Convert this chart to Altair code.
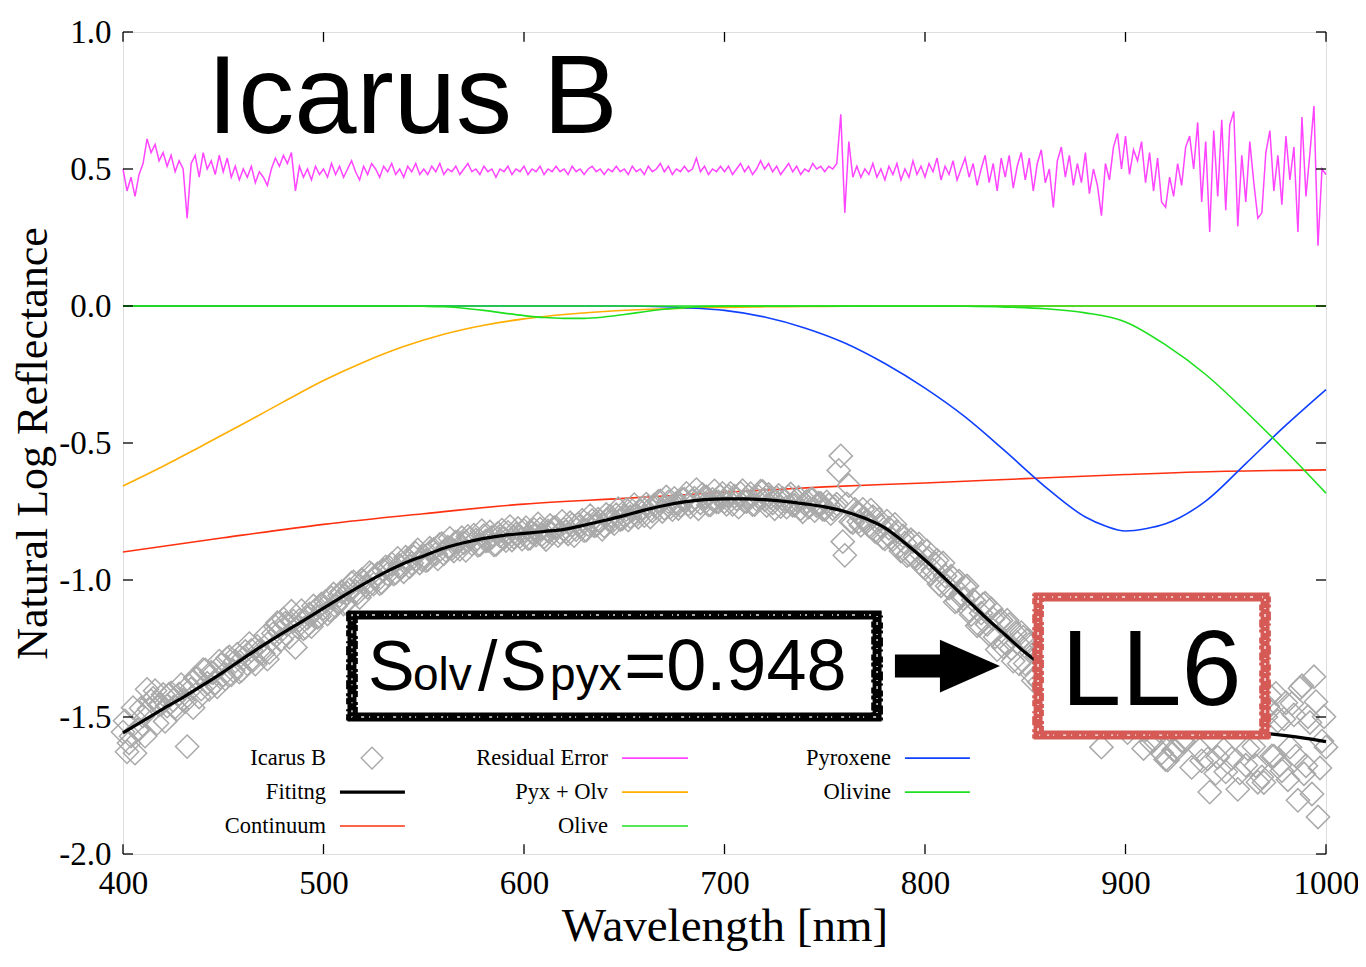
import altair as alt
import pandas as pd

# ---------------- data ----------------
# Residual Error (offset +0.5), 2 nm grid 400..1000
resid_wl = list(range(400, 1001, 2))
resid_vals = [
    0.50, 0.42, 0.47, 0.40, 0.48, 0.52, 0.61, 0.56, 0.59, 0.53, 0.56, 0.51, 0.55, 0.49, 0.53, 0.50, 0.32, 0.52, 0.55, 0.47, 0.56, 0.50, 0.53, 0.48, 0.55,
    0.49, 0.54, 0.47, 0.51, 0.46, 0.50, 0.47, 0.51, 0.45, 0.49, 0.47, 0.44, 0.50, 0.54, 0.51, 0.55, 0.52, 0.56, 0.42, 0.51, 0.47, 0.50, 0.46, 0.51, 0.48,
    0.50, 0.47, 0.52, 0.48, 0.51, 0.47, 0.50, 0.53, 0.49, 0.46, 0.51, 0.48, 0.52, 0.50, 0.47, 0.51, 0.49, 0.52, 0.48, 0.50, 0.47, 0.51, 0.49, 0.52, 0.48,
    0.50, 0.48, 0.51, 0.49, 0.52, 0.48, 0.50, 0.49, 0.51, 0.48, 0.50, 0.52, 0.49, 0.50, 0.48, 0.51, 0.49, 0.50, 0.47, 0.50, 0.49, 0.51, 0.48, 0.50, 0.49,
    0.51, 0.48, 0.50, 0.49, 0.51, 0.48, 0.50, 0.49, 0.51, 0.49, 0.50, 0.48, 0.51, 0.49, 0.50, 0.48, 0.50, 0.51, 0.49, 0.50, 0.48, 0.50, 0.49, 0.51, 0.49,
    0.50, 0.48, 0.51, 0.49, 0.50, 0.48, 0.51, 0.49, 0.50, 0.52, 0.49, 0.51, 0.48, 0.50, 0.49, 0.51, 0.49, 0.50, 0.54, 0.49, 0.51, 0.48, 0.50, 0.49, 0.51,
    0.49, 0.51, 0.48, 0.50, 0.52, 0.49, 0.51, 0.48, 0.50, 0.53, 0.50, 0.52, 0.49, 0.51, 0.48, 0.50, 0.52, 0.49, 0.51, 0.48, 0.50, 0.49, 0.52, 0.50, 0.51,
    0.49, 0.51, 0.50, 0.52, 0.70, 0.34, 0.60, 0.47, 0.51, 0.47, 0.50, 0.48, 0.52, 0.47, 0.50, 0.46, 0.51, 0.48, 0.52, 0.46, 0.50, 0.47, 0.53, 0.48, 0.51,
    0.47, 0.52, 0.49, 0.54, 0.46, 0.51, 0.48, 0.53, 0.46, 0.50, 0.54, 0.47, 0.52, 0.44, 0.50, 0.55, 0.45, 0.52, 0.42, 0.54, 0.47, 0.55, 0.43, 0.51, 0.56,
    0.46, 0.54, 0.42, 0.52, 0.57, 0.45, 0.50, 0.36, 0.53, 0.58, 0.47, 0.55, 0.44, 0.52, 0.45, 0.56, 0.41, 0.50, 0.44, 0.33, 0.52, 0.46, 0.58, 0.63, 0.50,
    0.62, 0.48, 0.57, 0.53, 0.60, 0.45, 0.56, 0.42, 0.54, 0.38, 0.36, 0.47, 0.40, 0.52, 0.44, 0.58, 0.62, 0.50, 0.67, 0.38, 0.60, 0.27, 0.64, 0.40, 0.68,
    0.35, 0.66, 0.71, 0.29, 0.55, 0.38, 0.60, 0.45, 0.32, 0.34, 0.56, 0.64, 0.42, 0.55, 0.37, 0.62, 0.46, 0.58, 0.27, 0.69, 0.40, 0.56, 0.73, 0.22, 0.50, 0.48,
]

# Icarus B measured spectrum, even nm grid 400..1000
obs_wl = list(range(400, 1001, 2))
obs_vals = [
    -1.555, -1.627, -1.570, -1.632, -1.545, -1.497, -1.399, -1.441, -1.404, -1.456, -1.418, -1.460, -1.412, -1.464, -1.416, -1.438, -1.608, -1.398, -1.357, -1.427, -1.327, -1.377, -1.337, -1.376, -1.296,
    -1.346, -1.286, -1.346, -1.296, -1.336, -1.286, -1.306, -1.257, -1.307, -1.258, -1.268, -1.289, -1.220, -1.170, -1.191, -1.142, -1.163, -1.114, -1.246, -1.147, -1.178, -1.139, -1.170, -1.111, -1.132,
    -1.103, -1.124, -1.065, -1.096, -1.057, -1.088, -1.049, -1.011, -1.042, -1.064, -1.005, -1.027, -0.979, -0.991, -1.013, -0.965, -0.978, -0.941, -0.974, -0.947, -0.970, -0.924, -0.939, -0.903, -0.938,
    -0.912, -0.926, -0.891, -0.905, -0.870, -0.904, -0.880, -0.886, -0.862, -0.888, -0.864, -0.841, -0.868, -0.854, -0.871, -0.838, -0.856, -0.844, -0.871, -0.839, -0.847, -0.826, -0.854, -0.833, -0.841,
    -0.820, -0.849, -0.827, -0.836, -0.814, -0.843, -0.821, -0.830, -0.808, -0.827, -0.815, -0.832, -0.799, -0.816, -0.803, -0.820, -0.797, -0.783, -0.800, -0.786, -0.803, -0.779, -0.786, -0.762, -0.779,
    -0.765, -0.781, -0.747, -0.763, -0.749, -0.765, -0.732, -0.748, -0.735, -0.711, -0.738, -0.715, -0.743, -0.720, -0.728, -0.705, -0.723, -0.712, -0.670, -0.719, -0.697, -0.726, -0.706, -0.715, -0.695,
    -0.714, -0.694, -0.724, -0.704, -0.684, -0.714, -0.695, -0.725, -0.706, -0.676, -0.707, -0.688, -0.719, -0.700, -0.732, -0.713, -0.695, -0.727, -0.708, -0.740, -0.722, -0.734, -0.706, -0.729, -0.721,
    -0.743, -0.726, -0.740, -0.723, -0.547, -0.910, -0.655, -0.790, -0.755, -0.800, -0.775, -0.802, -0.769, -0.826, -0.803, -0.850, -0.811, -0.852, -0.823, -0.894, -0.865, -0.907, -0.860, -0.922, -0.905,
    -0.957, -0.921, -0.964, -0.928, -1.021, -0.985, -1.029, -0.993, -1.077, -1.051, -1.025, -1.109, -1.073, -1.167, -1.121, -1.085, -1.198, -1.141, -1.254, -1.147, -1.230, -1.163, -1.296, -1.229, -1.192,
    -1.305, -1.236, -1.367, -1.278, -1.239, -1.370, -1.330, -1.480, -1.320, -1.280, -1.400, -1.328, -1.447, -1.375, -1.454, -1.352, -1.509, -1.426, -1.493, -1.610, -1.427, -1.493, -1.378, -1.334, -1.469,
    -1.355, -1.499, -1.414, -1.458, -1.393, -1.547, -1.441, -1.584, -1.468, -1.631, -1.655, -1.548, -1.621, -1.504, -1.587, -1.450, -1.412, -1.535, -1.367, -1.660, -1.442, -1.774, -1.405, -1.647, -1.368,
    -1.700, -1.391, -1.342, -1.764, -1.505, -1.676, -1.457, -1.608, -1.738, -1.719, -1.500, -1.422, -1.643, -1.515, -1.696, -1.448, -1.610, -1.492, -1.804, -1.386, -1.678, -1.520, -1.353, -1.865, -1.588, -1.610,
]

# Icarus B measured spectrum, odd nm grid 401..999
obs2_wl = list(range(401, 1000, 2))
obs2_vals = [
    -1.514, -1.595, -1.466, -1.547, -1.468, -1.570, -1.471, -1.432, -1.523, -1.454, -1.516, -1.417, -1.439, -1.471, -1.382, -1.444, -1.385, -1.466, -1.357, -1.398, -1.328, -1.399, -1.339, -1.390, -1.310,
    -1.361, -1.281, -1.331, -1.271, -1.331, -1.261, -1.232, -1.292, -1.242, -1.263, -1.203, -1.264, -1.195, -1.156, -1.217, -1.158, -1.209, -1.150, -1.171, -1.112, -1.173, -1.124, -1.095, -1.136, -1.087,
    -1.079, -1.110, -1.051, -1.082, -1.043, -1.084, -1.035, -1.007, -1.048, -0.999, -1.021, -0.973, -1.015, -0.977, -1.009, -0.952, -0.955, -0.978, -0.921, -0.954, -0.917, -0.952, -0.916, -0.890, -0.925,
    -0.929, -0.884, -0.888, -0.923, -0.867, -0.892, -0.848, -0.894, -0.860, -0.846, -0.892, -0.849, -0.836, -0.873, -0.820, -0.857, -0.825, -0.872, -0.830, -0.818, -0.856, -0.805, -0.844, -0.812, -0.851,
    -0.809, -0.848, -0.816, -0.795, -0.834, -0.852, -0.801, -0.809, -0.838, -0.786, -0.824, -0.791, -0.838, -0.795, -0.782, -0.818, -0.765, -0.802, -0.778, -0.815, -0.761, -0.767, -0.794, -0.740, -0.777,
    -0.743, -0.769, -0.725, -0.771, -0.737, -0.723, -0.770, -0.726, -0.713, -0.750, -0.697, -0.734, -0.702, -0.739, -0.706, -0.684, -0.733, -0.701, -0.740, -0.688, -0.697, -0.726, -0.675, -0.715, -0.684,
    -0.724, -0.684, -0.694, -0.734, -0.674, -0.714, -0.685, -0.725, -0.696, -0.677, -0.728, -0.699, -0.740, -0.691, -0.702, -0.734, -0.686, -0.727, -0.699, -0.751, -0.713, -0.705, -0.747, -0.720, -0.742,
    -0.715, -0.758, -0.731, -0.600, -0.860, -0.722, -0.787, -0.742, -0.787, -0.742, -0.788, -0.745, -0.822, -0.779, -0.846, -0.785, -0.846, -0.797, -0.878, -0.839, -0.911, -0.853, -0.916, -0.868, -0.951,
    -0.894, -0.978, -0.941, -1.015, -0.938, -1.022, -0.986, -1.080, -1.004, -1.068, -1.022, -1.126, -1.080, -1.164, -1.088, -1.162, -1.105, -1.208, -1.151, -1.244, -1.147, -1.250, -1.193, -1.306, -1.209,
    -1.220, -1.341, -1.262, -1.373, -1.254, -1.365, -1.255, -1.395, -1.335, -1.445, -1.314, -1.413, -1.321, -1.460, -1.368, -1.506, -1.373, -1.450, -1.357, -1.514, -1.420, -1.505, -1.371, -1.506, -1.412,
    -1.557, -1.381, -1.536, -1.420, -1.615, -1.439, -1.593, -1.396, -1.550, -1.433, -1.657, -1.470, -1.623, -1.406, -1.589, -1.441, -1.684, -1.466, -1.619, -1.411, -1.653, -1.484, -1.706, -1.447, -1.619,
    -1.430, -1.651, -1.483, -1.704, -1.465, -1.616, -1.417, -1.678, -1.508, -1.739, -1.461, -1.642, -1.414, -1.675, -1.507, -1.729, -1.451, -1.643, -1.395, -1.707, -1.499, -1.781, -1.444, -1.686, -1.499,
]

# Fitting (black), 10 nm grid
fit_wl = list(range(400, 1001, 10))
fit_vals = [
    -1.558, -1.514, -1.470, -1.428, -1.383, -1.336, -1.286, -1.238, -1.192, -1.148,
    -1.103, -1.058, -1.015, -0.975, -0.940, -0.912, -0.884, -0.864, -0.848, -0.837,
    -0.830, -0.823, -0.815, -0.800, -0.783, -0.765, -0.745, -0.728, -0.715, -0.707,
    -0.704, -0.704, -0.707, -0.713, -0.722, -0.733, -0.750, -0.775, -0.810, -0.865,
    -0.927, -0.995, -1.065, -1.135, -1.200, -1.265, -1.320, -1.370, -1.412, -1.447,
    -1.475, -1.497, -1.515, -1.530, -1.542, -1.550, -1.556, -1.560, -1.568, -1.578,
    -1.590,
]

# Continuum (red)
cont_wl = [400, 450, 500, 550, 600, 650, 700, 750, 800, 850, 900, 950, 1000]
cont_vals = [-0.898, -0.846, -0.797, -0.758, -0.723, -0.702, -0.680, -0.660, -0.646, -0.630, -0.615, -0.603, -0.598]

# Pyx + Olv (orange)
pxo_wl = [400, 420, 440, 460, 480, 500, 520, 540, 560, 580, 600, 620, 640, 660, 680, 700, 720, 740, 760, 780, 850, 1000]
pxo_vals = [-0.657, -0.585, -0.508, -0.430, -0.350, -0.272, -0.205, -0.148, -0.103, -0.070, -0.047, -0.031, -0.020, -0.013, -0.008, -0.005, -0.003, -0.002, -0.001, 0.0, 0.0, 0.0]

# Pyroxene (blue)
pyx_wl = [400, 600, 640, 660, 680, 700, 720, 740, 760, 780, 800, 820, 840, 860, 880, 890, 900, 910, 920, 940, 960, 980, 1000]
pyx_vals = [0.0, 0.0, 0.0, -0.001, -0.006, -0.016, -0.040, -0.080, -0.135, -0.210, -0.300, -0.405, -0.530, -0.660, -0.770, -0.803, -0.821, -0.813, -0.795, -0.712, -0.575, -0.435, -0.305]

# Olivine (green)
olv_wl = [400, 780, 800, 820, 840, 860, 880, 900, 920, 940, 960, 980, 1000]
olv_vals = [0.0, 0.0, 0.0, -0.001, -0.004, -0.010, -0.025, -0.058, -0.142, -0.250, -0.385, -0.530, -0.683]

# Olive (green, small band)
olive_wl = [400, 540, 550, 560, 570, 580, 590, 600, 610, 620, 630, 640, 650, 660, 670, 680, 690, 700, 1000]
olive_vals = [0.0, 0.0, -0.001, -0.003, -0.008, -0.016, -0.026, -0.035, -0.042, -0.045, -0.045, -0.040, -0.031, -0.021, -0.012, -0.006, -0.002, 0.0, 0.0]

x_ticks = [400, 500, 600, 700, 800, 900, 1000]
y_ticks = [-2.0, -1.5, -1.0, -0.5, 0.0, 0.5, 1.0]

legend_labels = ["Icarus B", "Fititng", "Continuum", "Residual Error", "Pyx + Olv", "Olive", "Pyroxene", "Olivine"]

# ---------------- styling ----------------
SERIF = "Liberation Serif"
SANS = "Liberation Sans"
C_RES = "#ff45ff"
C_CONT = "#ff3010"
C_PXO = "#ffae00"
C_PYX = "#1040ff"
C_OLV = "#1ee01e"
C_GRAY = "#a9a9a9"
C_BOX2 = "#d55a55"

XS = alt.Scale(domain=[400, 1000], nice=False, zero=False)
YS = alt.Scale(domain=[-2.0, 1.0], nice=False, zero=False)

x_axis = alt.Axis(
    values=x_ticks, format="d", title="Wavelength [nm]", ticks=False, tickSize=0,
    domain=False, grid=False, labelFont=SERIF, labelFontSize=33, labelPadding=13,
    labelFlush=False, labelOverlap=False, labelBound=False,
    labelColor="black", titleFont=SERIF, titleFontSize=47, titleFontWeight="normal",
    titleColor="black", titlePadding=3,
)
y_axis = alt.Axis(
    values=y_ticks, title="Natural Log Reflectance", ticks=False, tickSize=0,
    domain=False, grid=False, labelFont=SERIF, labelFontSize=33, labelPadding=12,
    labelFlush=False, labelOverlap=False,
    labelColor="black", titleFont=SERIF, titleFontSize=44, titleFontWeight="normal",
    titleColor="black", titlePadding=3,
    labelExpr="datum.value < 0 ? '-' + format(-datum.value, '.1f') : format(datum.value, '.1f')",
)


def X(field):
    return alt.X(f"{field}:Q", scale=XS, axis=x_axis)


def Y(field):
    return alt.Y(f"{field}:Q", scale=YS, axis=y_axis)


def line_layer(wl, vals, color, width=1.6):
    df = pd.DataFrame({"wl": wl, "val": vals})
    return alt.Chart(df).mark_line(color=color, strokeWidth=width, interpolate="monotone").encode(
        x=X("wl"), y=Y("val")
    )


obs_df = pd.DataFrame({"wl": obs_wl + obs2_wl, "val": obs_vals + obs2_vals})
scatter = alt.Chart(obs_df).mark_point(
    shape="diamond", filled=False, size=540, color=C_GRAY, strokeWidth=1.5, opacity=1
).encode(x=X("wl"), y=Y("val"))

resid_df = pd.DataFrame({"wl": resid_wl, "val": resid_vals})
resid = alt.Chart(resid_df).mark_line(color=C_RES, strokeWidth=1.5).encode(x=X("wl"), y=Y("val"))

fit = line_layer(fit_wl, fit_vals, "black", 3.2)
cont = line_layer(cont_wl, cont_vals, C_CONT)
pxo = line_layer(pxo_wl, pxo_vals, C_PXO)
pyx = line_layer(pyx_wl, pyx_vals, C_PYX)
olv = line_layer(olv_wl, olv_vals, C_OLV)
olive = line_layer(olive_wl, olive_vals, C_OLV)

# inward ticks on all four sides of the frame
tick_rows = []
for v in x_ticks:
    tick_rows.append({"x": v, "x2": v, "y": -2.0, "y2": -1.964})
    tick_rows.append({"x": v, "x2": v, "y": 1.0, "y2": 0.964})
for v in y_ticks:
    tick_rows.append({"x": 400, "x2": 405, "y": v, "y2": v})
    tick_rows.append({"x": 1000, "x2": 995, "y": v, "y2": v})
ticks = alt.Chart(pd.DataFrame(tick_rows)).mark_rule(color="black", strokeWidth=1.3).encode(
    x=X("x"), x2="x2", y=Y("y"), y2="y2"
)

# legend (drawn inside the plot)
leg_text_df = pd.DataFrame({
    "label": legend_labels,
    "x": [501.2, 501.2, 501.2, 641.9, 641.9, 641.9, 783.0, 783.0],
    "y": [-1.650, -1.774, -1.898, -1.650, -1.774, -1.898, -1.650, -1.774],
})
leg_text = alt.Chart(leg_text_df).mark_text(
    align="right", baseline="middle", font=SERIF, fontSize=22.5, color="black"
).encode(x=X("x"), y=Y("y"), text="label:N")

leg_line_df = pd.DataFrame({
    "x": [508.2, 508.2, 648.9, 648.9, 648.9, 790.0, 790.0],
    "x2": [540.6, 540.6, 681.8, 681.8, 681.8, 822.4, 822.4],
    "y": [-1.774, -1.898, -1.650, -1.774, -1.898, -1.650, -1.774],
    "c": ["black", C_CONT, C_RES, C_PXO, C_OLV, C_PYX, C_OLV],
    "w": [3.2, 1.6, 1.6, 1.6, 1.6, 1.6, 1.6],
})
leg_lines = alt.Chart(leg_line_df).mark_rule().encode(
    x=X("x"), x2="x2", y=Y("y"),
    color=alt.Color("c:N", scale=None), strokeWidth=alt.StrokeWidth("w:Q", scale=None)
)
leg_sym = alt.Chart(pd.DataFrame({"x": [524.2], "y": [-1.650]})).mark_point(
    shape="diamond", filled=False, size=470, color=C_GRAY, strokeWidth=1.4, opacity=1
).encode(x=X("x"), y=Y("y"))

# annotation boxes (hand-drawn look: thick stroke + ragged outer/inner edges + speckles)
box_df = pd.DataFrame({
    "x": [514.2, 856.4], "x2": [776.1, 969.6],
    "y": [-1.128, -1.062], "y2": [-1.500, -1.566],
    "c": ["black", C_BOX2],
})
box_out_df = pd.DataFrame({
    "x": [511.9, 854.1], "x2": [778.4, 971.9],
    "y": [-1.120, -1.054], "y2": [-1.508, -1.574],
    "c": ["black", C_BOX2],
})
box_in_df = pd.DataFrame({
    "x": [516.5, 858.7], "x2": [773.8, 967.3],
    "y": [-1.136, -1.070], "y2": [-1.492, -1.558],
    "c": ["black", C_BOX2],
})
boxes = alt.Chart(box_df).mark_rect(fill="white", strokeWidth=9).encode(
    x=X("x"), x2="x2", y=Y("y"), y2="y2", stroke=alt.Stroke("c:N", scale=None)
)
box_edge_out = alt.Chart(box_out_df).mark_rect(
    fill="transparent", strokeWidth=2.5, strokeDash=[6, 2, 3, 4, 9, 3, 2, 5]
).encode(x=X("x"), x2="x2", y=Y("y"), y2="y2", stroke=alt.Stroke("c:N", scale=None))
box_edge_in = alt.Chart(box_in_df).mark_rect(
    fill="transparent", strokeWidth=2.5, strokeDash=[4, 3, 8, 2, 3, 5, 6, 2]
).encode(x=X("x"), x2="x2", y=Y("y"), y2="y2", stroke=alt.Stroke("c:N", scale=None))
box_tex = alt.Chart(box_df).mark_rect(
    fill="transparent", stroke="white", strokeWidth=1.4, strokeDash=[1, 4, 2, 7, 1, 5, 3, 9], opacity=0.9
).encode(x=X("x"), x2="x2", y=Y("y"), y2="y2")

# arrow
arrow_shaft = alt.Chart(pd.DataFrame({"x": [785.0], "x2": [811.0], "y": [-1.314]})).mark_rule(
    color="black", strokeWidth=23
).encode(x=X("x"), x2="x2", y=Y("y"))
arrow_head = alt.Chart(pd.DataFrame({"x": [822.4], "y": [-1.314]})).mark_point(
    shape="M-1,-0.88L1,0L-1,0.88Z", size=3600, filled=True, color="black", opacity=1, strokeWidth=0
).encode(x=X("x"), y=Y("y"))

# texts
txt_df = pd.DataFrame({
    "t": ["Icarus B", "S", "olv", "/", "S", "pyx", "=0.948", "LL6"],
    "x": [441.9, 522.2, 544.6, 577.0, 588.0, 613.0, 650.0, 868.0],
    "y": [0.631, -1.4015, -1.4015, -1.4015, -1.4015, -1.4015, -1.4015, -1.456],
    "fs": [112, 70, 46, 70, 70, 46, 72, 108],
})
texts = alt.Chart(txt_df).mark_text(
    align="left", baseline="alphabetic", font=SANS, color="black"
).encode(x=X("x"), y=Y("y"), text="t:N", size=alt.Size("fs:Q", scale=None))

chart = alt.layer(
    resid, cont, pxo, pyx, olv, olive, scatter, fit,
    boxes, box_edge_out, box_edge_in, box_tex, arrow_shaft, arrow_head, texts,
    leg_text, leg_lines, leg_sym, ticks,
).properties(
    width=1203, height=822,
    autosize="none",
    padding={"left": 115, "top": 24, "right": 32, "bottom": 100},
).configure_view(
    stroke="black", strokeWidth=2.2
).configure(background="white")

chart.save("out.html", embed_options={"renderer": "svg", "actions": False})
